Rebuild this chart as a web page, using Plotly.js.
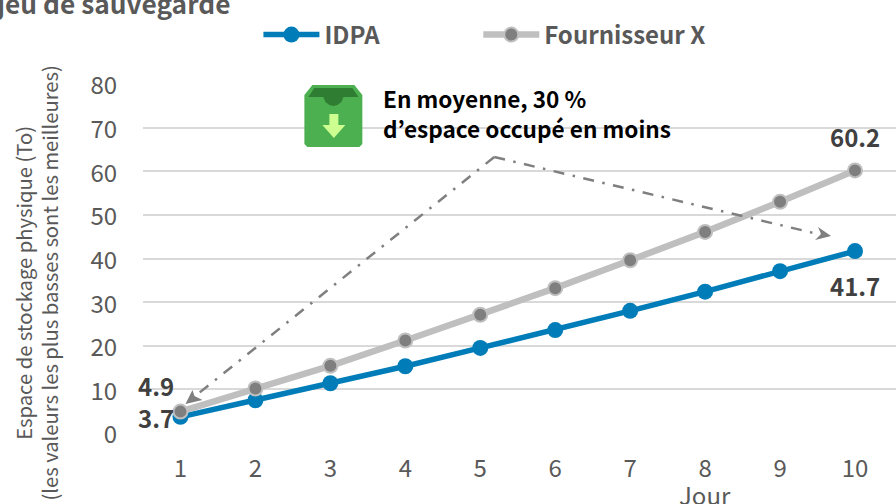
<!DOCTYPE html>
<html>
<head>
<meta charset="utf-8">
<script src="https://cdn.plot.ly/plotly-3.0.1.min.js"></script>
<style>html,body{margin:0;padding:0;background:#fff;overflow:hidden}</style>
</head>
<body>
<div id="chart" style="width:896px;height:504px"></div>
<script>
const days = [1,2,3,4,5,6,7,8,9,10];
const idpa = [3.7,7.5,11.4,15.3,19.5,23.6,28.0,32.4,37.1,41.7];
const fournisseur = [4.9,10.2,15.4,21.2,27.1,33.2,39.6,46.1,53.0,60.2];
const yTicks = [0,10,20,30,40,50,60,70,80];
const seriesNames = ['IDPA','Fournisseur X'];
const chartTitle = 'jeu de sauvegarde';
const yTitle = 'Espace de stockage physique (To)<br>(les valeurs les plus basses sont les meilleures)';
const xTitle = 'Jour';
const calloutLines = ['En moyenne, 30 %','d’espace occupé en moins'];

const W = 896, H = 504;
const FONT = '"Noto Sans CJK JP","Noto Sans",sans-serif';
const M = {l:142.5, r:0, t:84, b:71};
// page-pixel helpers for decoration, converted to the plot's paper fraction
const pw = W - M.l - M.r, ph = H - M.t - M.b;
const fx = x => (x - M.l) / pw;
const fy = y => 1 - (y - M.t) / ph;
const P = pts => pts.map((p,i) => (i ? 'L' : 'M') + fx(p[0]).toFixed(5) + ' ' + fy(p[1]).toFixed(5)).join(' ');
const deco = (path, fill, extra) => Object.assign({type:'path', xref:'paper', yref:'paper', path:path + ' Z', fillcolor:fill, line:{width:0}, layer:'above'}, extra||{});
const rect = (x0,y0,x1,y1) => ({type:'rect', xref:'paper', yref:'paper', x0:fx(x0), x1:fx(x1), y0:fy(y0), y1:fy(y1), fillcolor:'#fff', line:{width:0}, layer:'below'});
const dashed = pts => ({type:'path', xref:'paper', yref:'paper', path:P(pts), line:{color:'#7F7F7F', width:2.5, dash:'11px,8.5px,2.5px,8.5px'}, layer:'above'});

const shapes = [
  rect(362,80,660,116),
  rect(362,116,671,146),
  // icon
  deco(P([[304,95],[312,85],[354,85],[362,95],[362,144],[359,147],[307,147],[304,144]]), '#4CAF50'),
  deco(P([[308,97],[314,88],[352,88],[358,97]]), '#2E7D32'),
  deco(P([[323,97],[325,102],[329,105],[333,106],[337,105],[341,102],[343,97]]), '#2E7D32'),
  deco(P([[329,114],[338,114],[338,125],[345,125],[333.5,138],[322,125],[329,125]]), '#CCFF90'),
  // dash-dot callout
  dashed([[494,157],[191,399]]),
  dashed([[494,157],[822,235]]),
  deco(P([[185,404],[192,390],[194,396],[202,400]]), '#7F7F7F'),
  deco(P([[831,236],[818,227],[821,234],[815,240]]), '#7F7F7F')
];

const lbl = (x,y,text,xs,ys,anchor) => ({x, y, xref:'x', yref:'y', text, showarrow:false, xshift:xs, yshift:ys, xanchor:anchor,
  yanchor:'middle', font:{family:FONT, size:24, color:'#404040', weight:700}});

const annotations = [
  lbl(days[0], fournisseur[0], '4.9', -4, 26, 'right'),
  lbl(days[0], idpa[0], '3.7', -4, -1, 'right'),
  lbl(days[9], fournisseur[9], '60.2', 0, 34, 'center'),
  lbl(days[9], idpa[9], '41.7', 0, -34, 'center'),
  {xref:'paper', yref:'paper', x:fx(381), y:fy(98), xanchor:'left', yanchor:'middle', showarrow:false, text:calloutLines[0], font:{family:FONT, size:22.6, color:'#000', weight:700}},
  {xref:'paper', yref:'paper', x:fx(381), y:fy(128), xanchor:'left', yanchor:'middle', showarrow:false, text:calloutLines[1], font:{family:FONT, size:22.6, color:'#000', weight:700}},
  {xref:'paper', yref:'paper', x:fx(35), y:fy(283), xanchor:'center', yanchor:'middle', textangle:-90, showarrow:false, text:yTitle, font:{family:FONT, size:20.2, color:'#595959'}},
  {xref:'paper', yref:'paper', x:fx(705), y:fy(494), xanchor:'center', yanchor:'middle', showarrow:false, text:xTitle, font:{family:FONT, size:24, color:'#595959'}}
];

const traces = [
  {x:days, y:idpa, name:seriesNames[0], type:'scatter', mode:'lines+markers', cliponaxis:false, legend:'legend',
   line:{color:'#007DB8', width:5.5}, marker:{color:'#007DB8', size:16}},
  {x:days, y:fournisseur, name:seriesNames[1], type:'scatter', mode:'lines+markers', cliponaxis:false, legend:'legend2',
   line:{color:'#BFBFBF', width:6.5}, marker:{color:'#7F7F7F', size:14, line:{color:'#BFBFBF', width:2}}}
];

const legendBase = {orientation:'h', xref:'paper', yref:'paper', xanchor:'left', yanchor:'middle', y:fy(35),
  itemwidth:56, bgcolor:'rgba(0,0,0,0)', font:{family:FONT, size:24, color:'#595959', weight:700}};

const layout = {
  width:W, height:H, margin:M, paper_bgcolor:'#fff', plot_bgcolor:'#fff',
  font:{family:FONT, color:'#595959'},
  title:{text:chartTitle, xref:'container', yref:'container', x:0, xanchor:'left', y:0.990, yanchor:'middle', pad:{l:-3}, font:{family:FONT, size:26.3, color:'#595959', weight:700}},
  showlegend:true,
  legend:Object.assign({}, legendBase, {x:fx(258)}),
  legend2:Object.assign({}, legendBase, {x:fx(478)}),
  xaxis:{range:[0.5,10.547], tickmode:'array', tickvals:days, ticks:'outside', ticklen:14, tickcolor:'rgba(0,0,0,0)', showgrid:false, zeroline:false, showline:false,
    tickfont:{family:FONT, size:24, color:'#595959'}},
  yaxis:{range:[0,80], tickmode:'array', tickvals:yTicks, ticks:'outside', ticklen:20, ticklabelshift:2, tickcolor:'rgba(0,0,0,0)', showgrid:true, gridcolor:'#D9D9D9', gridwidth:2, zeroline:false, showline:false,
    tickfont:{family:FONT, size:24, color:'#595959'}},
  shapes, annotations
};
Plotly.newPlot('chart', traces, layout, {displayModeBar:false, responsive:false});
</script>
</body>
</html>
